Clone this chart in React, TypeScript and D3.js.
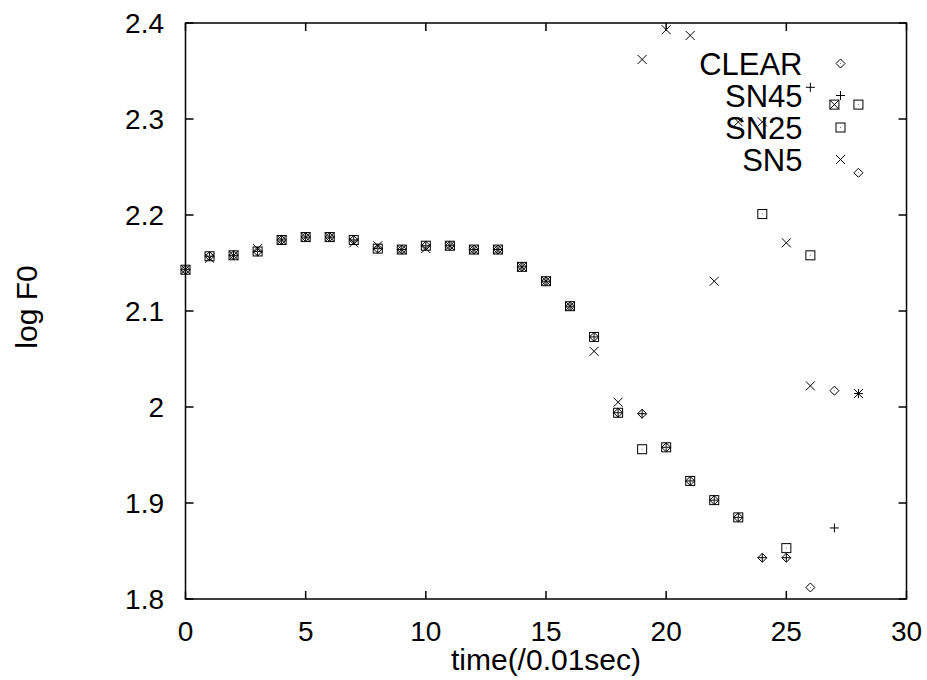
import React from "react";
import * as d3 from "d3";

const times = [0,1,2,3,4,5,6,7,8,9,10,11,12,13,14,15,16,17,18,19,20,21,22,23,24,25,26,27,28];
const clear = [2.143,2.157,2.158,2.162,2.174,2.177,2.177,2.174,2.165,2.164,2.168,2.168,2.164,2.164,2.146,2.131,2.105,2.073,1.994,1.993,1.958,1.923,1.903,1.885,1.843,1.843,1.812,2.017,2.244];
const sn45 = [2.143,2.157,2.158,2.162,2.174,2.177,2.177,2.174,2.165,2.164,2.168,2.168,2.164,2.164,2.146,2.131,2.105,2.073,1.994,1.993,1.958,1.923,1.903,1.885,1.843,1.843,2.333,1.874,2.014];
const sn25 = [2.143,2.157,2.158,2.162,2.174,2.177,2.177,2.174,2.165,2.164,2.168,2.168,2.164,2.164,2.146,2.131,2.105,2.073,1.994,1.956,1.958,1.923,1.903,1.885,2.201,1.853,2.158,2.315,2.315];
const sn5 = [2.143,2.155,2.158,2.165,2.174,2.177,2.177,2.171,2.168,2.164,2.165,2.168,2.164,2.164,2.146,2.131,2.105,2.058,2.005,2.362,2.393,2.387,2.131,2.297,2.297,2.171,2.022,2.315,2.014];

const seriesNames = ["CLEAR", "SN45", "SN25", "SN5"];
const seriesValues = [clear, sn45, sn25, sn5];
const seriesShapes = ["diamond", "plus", "square", "cross"];

const xTicks = [0, 5, 10, 15, 20, 25, 30];
const yTicks = [1.8, 1.9, 2.0, 2.1, 2.2, 2.3, 2.4];
const yTickLabels = ["1.8", "1.9", "2", "2.1", "2.2", "2.3", "2.4"];

const W = 927, H = 680;
const left = 185.5, right = 906.5, top = 23, bottom = 599;
const FONT = "'Liberation Sans', Arial, sans-serif";

function Marker({ shape, x, y }: { shape: string; x: number; y: number }) {
  const s = 4.5;
  const st = { stroke: "#000", strokeWidth: 1, fill: "none" };
  if (shape === "diamond") {
    return (
      <g>
        <path d={`M${x - s},${y}L${x},${y - s}L${x + s},${y}L${x},${y + s}Z`} {...st} />
        <rect x={x - 0.5} y={y - 0.5} width={1} height={1} fill="#777" />
      </g>
    );
  }
  if (shape === "square") {
    return (
      <g>
        <rect x={x - s} y={y - s} width={2 * s} height={2 * s} {...st} />
        <rect x={x - 0.5} y={y - 0.5} width={1} height={1} fill="#777" />
      </g>
    );
  }
  if (shape === "plus") {
    return <path d={`M${x - s},${y}H${x + s}M${x},${y - s}V${y + s}`} {...st} />;
  }
  return <path d={`M${x - s},${y - s}L${x + s},${y + s}M${x - s},${y + s}L${x + s},${y - s}`} {...st} />;
}

export default function App() {
  const x = d3.scaleLinear().domain([0, 30]).range([left, right]);
  const y = d3.scaleLinear().domain([1.8, 2.4]).range([bottom, top]);
  const tl = 8;
  const legendX = right - 66;
  const legendY0 = 63.5;
  const legendStep = 32;

  return (
    <svg width={W} height={H} style={{ position: "absolute", left: 0, top: 0, background: "#fff" }}>
      <rect x={0} y={0} width={W} height={H} fill="#fff" />
      {/* ticks */}
      {xTicks.map((t) => (
        <g key={"xt" + t}>
          <line x1={x(t)} x2={x(t)} y1={bottom} y2={bottom - tl} stroke="#000" strokeWidth={1.5} />
          <line x1={x(t)} x2={x(t)} y1={top} y2={top + tl} stroke="#000" strokeWidth={1.5} />
          <text x={x(t)} y={641} textAnchor="middle" fontFamily={FONT} fontSize={28} fill="#000">{t}</text>
        </g>
      ))}
      {yTicks.map((t, i) => (
        <g key={"yt" + t}>
          <line x1={left} x2={left + tl} y1={y(t)} y2={y(t)} stroke="#000" strokeWidth={1.5} />
          <line x1={right} x2={right - tl} y1={y(t)} y2={y(t)} stroke="#000" strokeWidth={1.5} />
          <text x={164} y={y(t) + 10} textAnchor="end" fontFamily={FONT} fontSize={28} fill="#000">{yTickLabels[i]}</text>
        </g>
      ))}
      <rect x={left} y={top} width={right - left} height={bottom - top} fill="none" stroke="#000" strokeWidth={1.5} />
      {/* axis titles */}
      <text x={(left + right) / 2} y={670} textAnchor="middle" fontFamily={FONT} fontSize={30} fill="#000">time(/0.01sec)</text>
      <text transform={`translate(37,${(top + bottom) / 2 - 4}) rotate(-90)`} textAnchor="middle" fontFamily={FONT} fontSize={30} fill="#000">log F0</text>
      {/* data */}
      {seriesValues.map((vals, si) => (
        <g key={"s" + si}>
          {vals.map((v, i) => (
            <Marker key={i} shape={seriesShapes[si]} x={x(times[i])} y={y(v)} />
          ))}
        </g>
      ))}
      {/* legend */}
      {seriesNames.map((n, i) => (
        <g key={"lg" + n}>
          <text x={legendX - 38} y={legendY0 + i * legendStep + 11} textAnchor="end" fontFamily={FONT} fontSize={31} fill="#000">{n}</text>
          <Marker shape={seriesShapes[i]} x={legendX} y={legendY0 + i * legendStep} />
        </g>
      ))}
    </svg>
  );
}
